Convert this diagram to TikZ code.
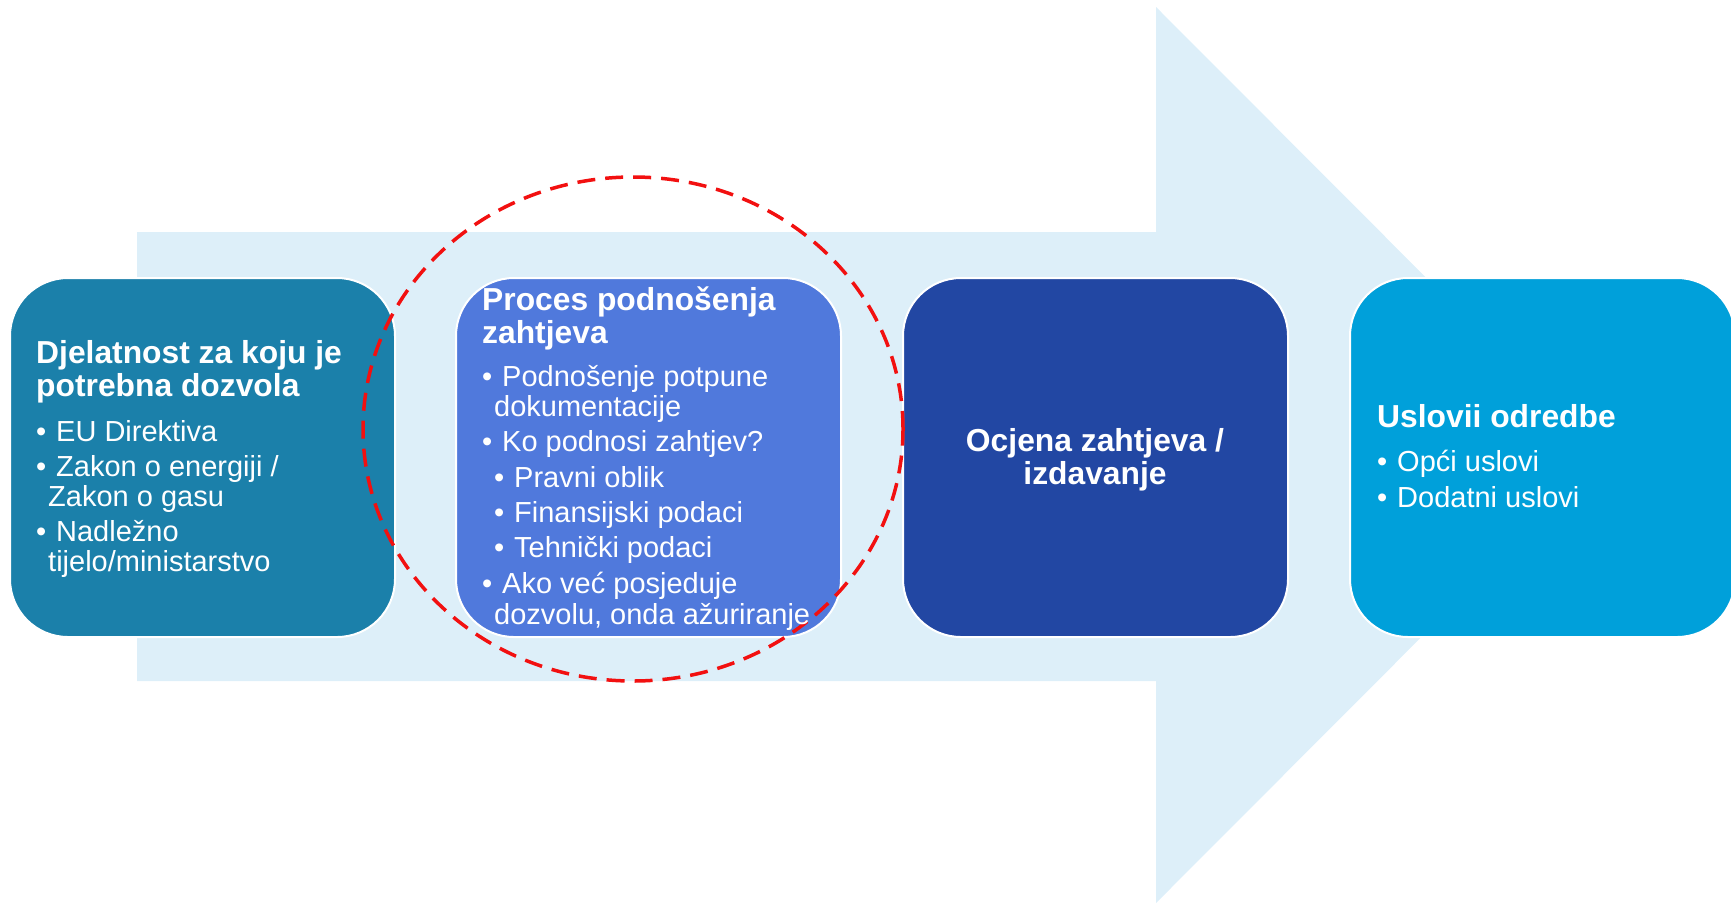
\documentclass[tikz,border=0pt]{standalone}
\usepackage{fontspec}
\setmainfont{Liberation Sans}
\definecolor{arrowc}{HTML}{DDEFF9}
\definecolor{cone}{HTML}{1B80AA}
\definecolor{ctwo}{HTML}{5079DC}
\definecolor{cthree}{HTML}{2247A3}
\definecolor{cfour}{HTML}{00A0DA}
\definecolor{dashred}{HTML}{F21010}
\newcommand{\boxtitle}{\fontsize{31.8}{33}\selectfont\bfseries}
\newcommand{\boxbody}{\fontsize{29}{30}\selectfont\mdseries}
\newcommand{\bulletmark}{\makebox[20pt][l]{•}}
\tikzset{
  stage/.style={draw=white, line width=2pt, rounded corners=58pt,
    minimum width=385pt, minimum height=359pt, inner sep=0pt, anchor=north west},
  stagetext/.style={inner sep=0pt, text=white, anchor=base west}
}
\begin{document}
\begin{tikzpicture}[x=1pt,y=-1pt]
\useasboundingbox (0,0) rectangle (1731,903);
% big background arrow
\fill[arrowc] (137,232) -- (1156,232) -- (1156,7) -- (1603,455) -- (1156,903)
  -- (1156,681) -- (137,681) -- cycle;
% stage boxes
\node[stage, fill=cone]   (b1) at (9,277) {};
\node[stage, fill=ctwo]   (b2) at (455,277) {};
\node[stage, fill=cthree] (b3) at (902,277) {};
\node[stage, fill=cfour]  (b4) at (1349,277) {};
% dashed highlight ellipse
\draw[dashred, line width=3.5pt, dash pattern=on 18pt off 10pt]
  (633,429) ellipse [x radius=270pt, y radius=252pt];
% texts
\node[stagetext] (t1) at (36,363) {\parbox[t]{340pt}{\raggedright
{\boxtitle Djelatnost za koju je\\potrebna dozvola\par}
\boxbody
\vspace{15pt}\bulletmark EU Direktiva\par
\vspace{5pt}\bulletmark Zakon o energiji /\\\hspace*{12pt}Zakon o gasu\par
\vspace{5pt}\bulletmark Nadležno\\\hspace*{12pt}tijelo/ministarstvo\par}};
\node[stagetext] (t2) at (482,310) {\parbox[t]{350pt}{\raggedright
{\boxtitle Proces podnošenja\\zahtjeva\par}
\boxbody
\vspace{13pt}\bulletmark Podnošenje potpune\\\hspace*{12pt}dokumentacije\par
\vspace{5pt}\bulletmark Ko podnosi zahtjev?\par
\vspace{6pt}\hspace*{12pt}\bulletmark Pravni oblik\par
\vspace{5pt}\hspace*{12pt}\bulletmark Finansijski podaci\par
\vspace{5pt}\hspace*{12pt}\bulletmark Tehnički podaci\par
\vspace{6pt}\bulletmark Ako već posjeduje\\[1pt]\hspace*{12pt}dozvolu, onda ažuriranje\par}};
\node[inner sep=0pt, text=white, anchor=base] (t3) at (1095,451) {\parbox[t]{360pt}{\centering
\boxtitle Ocjena zahtjeva /\\izdavanje\par}};
\node[stagetext] (t4) at (1377,427) {\parbox[t]{330pt}{\raggedright
{\boxtitle Uslovii odredbe\par}
\boxbody
\vspace{14pt}\bulletmark Opći uslovi\par
\vspace{6pt}\bulletmark Dodatni uslovi\par}};
\end{tikzpicture}
\end{document}
